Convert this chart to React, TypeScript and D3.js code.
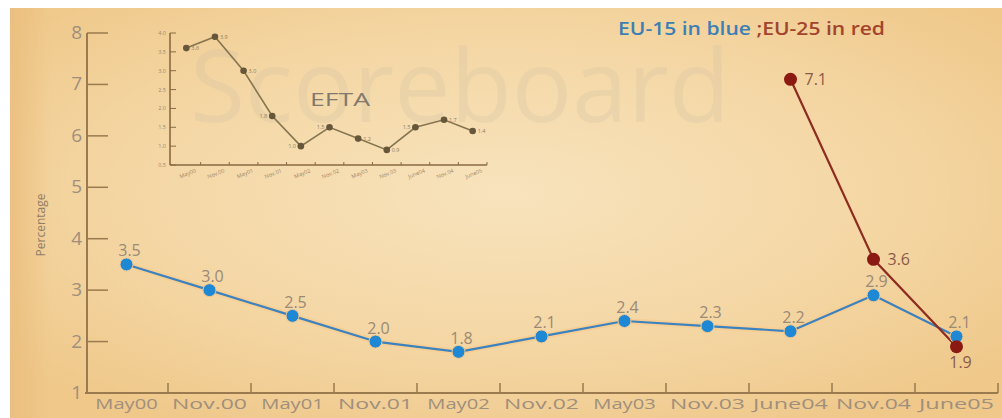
import React from "react";
import * as d3 from "d3";

const categories = ["May00", "Nov.00", "May01", "Nov.01", "May02", "Nov.02", "May03", "Nov.03", "June04", "Nov.04", "June05"];
const eu15 = [3.5, 3.0, 2.5, 2.0, 1.8, 2.1, 2.4, 2.3, 2.2, 2.9, 2.1];
const eu25: (number | null)[] = [null, null, null, null, null, null, null, null, 7.1, 3.6, 1.9];
const yTicks = [1, 2, 3, 4, 5, 6, 7, 8];

const eftaValues = [3.6, 3.9, 3.0, 1.8, 1.0, 1.5, 1.2, 0.9, 1.5, 1.7, 1.4];
const eftaTicks = [0.5, 1.0, 1.5, 2.0, 2.5, 3.0, 3.5, 4.0];

const W = 1002;
const H = 418;

export default function App() {
  const x = d3.scaleBand<string>().domain(categories).range([85, 998]).padding(0);
  const y = d3.scaleLinear().domain([1, 8]).range([393, 33]);
  const cx = (c: string) => (x(c) as number) + x.bandwidth() / 2;

  const line = d3
    .line<[string, number | null]>()
    .defined((d) => d[1] !== null)
    .x((d) => cx(d[0]))
    .y((d) => y(d[1] as number));

  const blueData = categories.map((c, i) => [c, eu15[i]] as [string, number | null]);
  const redData = categories.map((c, i) => [c, eu25[i]] as [string, number | null]);

  // inset
  const ix = d3.scaleBand<string>().domain(categories).range([172, 487]);
  const iy = d3.scaleLinear().domain([0.5, 4.0]).range([165, 33]);
  const icx = (c: string) => (ix(c) as number) + ix.bandwidth() / 2;
  const iline = d3
    .line<number>()
    .x((_, i) => icx(categories[i]))
    .y((d) => iy(d));
  const insetLabelSide = ["r", "r", "r", "l", "l", "l", "r", "r", "l", "r", "r"];

  const axisCol = "#9a7a4e";
  const tickTextCol = "#a08f7c";
  const font = "'Open Sans', 'Noto Sans', sans-serif";

  return (
    <svg width={W} height={H} style={{ position: "absolute", left: 0, top: 0 }} fontFamily={font}>
      <defs>
        <radialGradient id="bg" cx="50%" cy="45%" r="65%">
          <stop offset="0%" stopColor="#f8e3bd" />
          <stop offset="60%" stopColor="#f4d6a3" />
          <stop offset="100%" stopColor="#efc88a" />
        </radialGradient>
        <linearGradient id="leftband" x1="0" x2="1" y1="0" y2="0">
          <stop offset="0%" stopColor="#eabd7c" stopOpacity={0.8} />
          <stop offset="100%" stopColor="#eabd7c" stopOpacity={0} />
        </linearGradient>
      </defs>
      <rect x={0} y={0} width={W} height={H} fill="#ffffff" />
      <rect x={10} y={8} width={W - 10} height={H - 8} fill="url(#bg)" />
      <rect x={10} y={8} width={40} height={H - 8} fill="url(#leftband)" />

      {/* watermark */}
      <text x={190} y={122} fontSize={100} textLength={540} lengthAdjust="spacingAndGlyphs" fill="#c9bba2" opacity={0.22}>
        Scoreboard
      </text>

      {/* legend */}
      <text x={618} y={35} fontSize={18} textLength={267} lengthAdjust="spacingAndGlyphs" fontWeight={600} fontFamily="'Open Sans', sans-serif">
        <tspan fill="#3d7fb5">EU-15 in blue </tspan>
        <tspan fill="#a2452c">;EU-25 in red</tspan>
      </text>

      {/* Y axis */}
      <line x1={87} x2={87} y1={y(8)} y2={y(1)} stroke={axisCol} strokeWidth={2} />
      {yTicks.map((t) => (
        <g key={t}>
          {t > 1 && <line x1={87} x2={108} y1={y(t)} y2={y(t)} stroke={axisCol} strokeWidth={1.5} />}
          <text x={82} y={y(t) + 6} fontSize={19} textAnchor="end" fill={tickTextCol}>
            {t}
          </text>
        </g>
      ))}
      <text transform="translate(45,225) rotate(-90)" fontSize={12} textAnchor="middle" fill="#8f7d68">
        Percentage
      </text>

      {/* X axis */}
      <line x1={85} x2={998} y1={393} y2={393} stroke={axisCol} strokeWidth={2} />
      {categories.map((c) => (
        <line key={c} x1={(x(c) as number) + x.bandwidth()} x2={(x(c) as number) + x.bandwidth()} y1={393} y2={383} stroke={axisCol} strokeWidth={1.5} />
      ))}
      {categories.map((c) => (
        <text key={c} x={cx(c)} y={409} fontSize={15} textAnchor="middle" textLength={c.length * 12.5} lengthAdjust="spacingAndGlyphs" fill={tickTextCol}>
          {c}
        </text>
      ))}

      {/* Inset EFTA chart */}
      <line x1={170} x2={170} y1={iy(4.0)} y2={iy(0.5)} stroke="#8a6a42" strokeWidth={1.6} />
      <line x1={170} x2={487} y1={iy(0.5)} y2={iy(0.5)} stroke="#8a6a42" strokeWidth={1.6} />
      {eftaTicks.map((t) => (
        <g key={t}>
          <line x1={170} x2={176} y1={iy(t)} y2={iy(t)} stroke="#8a6a42" strokeWidth={1} />
          <text x={166} y={iy(t) + 2} fontSize={5.5} textAnchor="end" fill="#9a8870">
            {t.toFixed(1)}
          </text>
        </g>
      ))}
      {categories.map((c) => (
        <line key={"it" + c} x1={(ix(c) as number) + ix.bandwidth()} x2={(ix(c) as number) + ix.bandwidth()} y1={iy(0.5)} y2={iy(0.5) - 3} stroke="#8a6a42" strokeWidth={1} />
      ))}
      {categories.map((c) => (
        <text key={"il" + c} transform={`translate(${icx(c) + 10},${iy(0.5) + 7}) rotate(-22)`} fontSize={5.5} textAnchor="end" fill="#9a8466">
          {c}
        </text>
      ))}
      <text x={310} y={106} fontSize={18} textLength={60} lengthAdjust="spacingAndGlyphs" fill="#7f796e">
        EFTA
      </text>
      <path d={iline(eftaValues) as string} fill="none" stroke="#857550" strokeWidth={1.6} />
      {eftaValues.map((v, i) => (
        <g key={"ip" + i}>
          <circle cx={icx(categories[i])} cy={iy(v)} r={3.3} fill="#66573a" />
          <text
            x={icx(categories[i]) + (insetLabelSide[i] === "r" ? 5 : -5)}
            y={iy(v) + 2}
            fontSize={5.5}
            textAnchor={insetLabelSide[i] === "r" ? "start" : "end"}
            fill="#8a7b64"
          >
            {v.toFixed(1)}
          </text>
        </g>
      ))}

      {/* EU-15 blue series */}
      <path d={line(blueData) as string} fill="none" stroke="#f7cf94" strokeWidth={6} strokeLinejoin="round" />
      <path d={line(blueData) as string} fill="none" stroke="#3b82bf" strokeWidth={2.2} strokeLinejoin="round" />
      {/* EU-25 red series */}
      <path d={line(redData) as string} fill="none" stroke="#8e2c1f" strokeWidth={2.2} />

      {blueData.map((d, i) => (
        <g key={"b" + i}>
          <circle cx={cx(d[0])} cy={y(d[1] as number)} r={6.5} fill="#1f88d4" stroke="#f5c98e" strokeWidth={1} />
          <text x={cx(d[0]) + 3} y={y(d[1] as number) - 8} fontSize={16} textAnchor="middle" fill="#9a8a76">
            {(d[1] as number).toFixed(1)}
          </text>
        </g>
      ))}
      {redData.map((d, i) =>
        d[1] === null ? null : (
          <g key={"r" + i}>
            <circle cx={cx(d[0])} cy={y(d[1] as number)} r={6.5} fill="#8b1a12" />
            {i === categories.length - 1 ? (
              <text x={cx(d[0]) + 4} y={y(d[1] as number) + 21} fontSize={16} textAnchor="middle" fill="#8a5a48">
                {(d[1] as number).toFixed(1)}
              </text>
            ) : (
              <text x={cx(d[0]) + 14} y={y(d[1] as number) + 6} fontSize={16} textAnchor="start" fill="#8a5a48">
                {(d[1] as number).toFixed(1)}
              </text>
            )}
          </g>
        )
      )}
    </svg>
  );
}
